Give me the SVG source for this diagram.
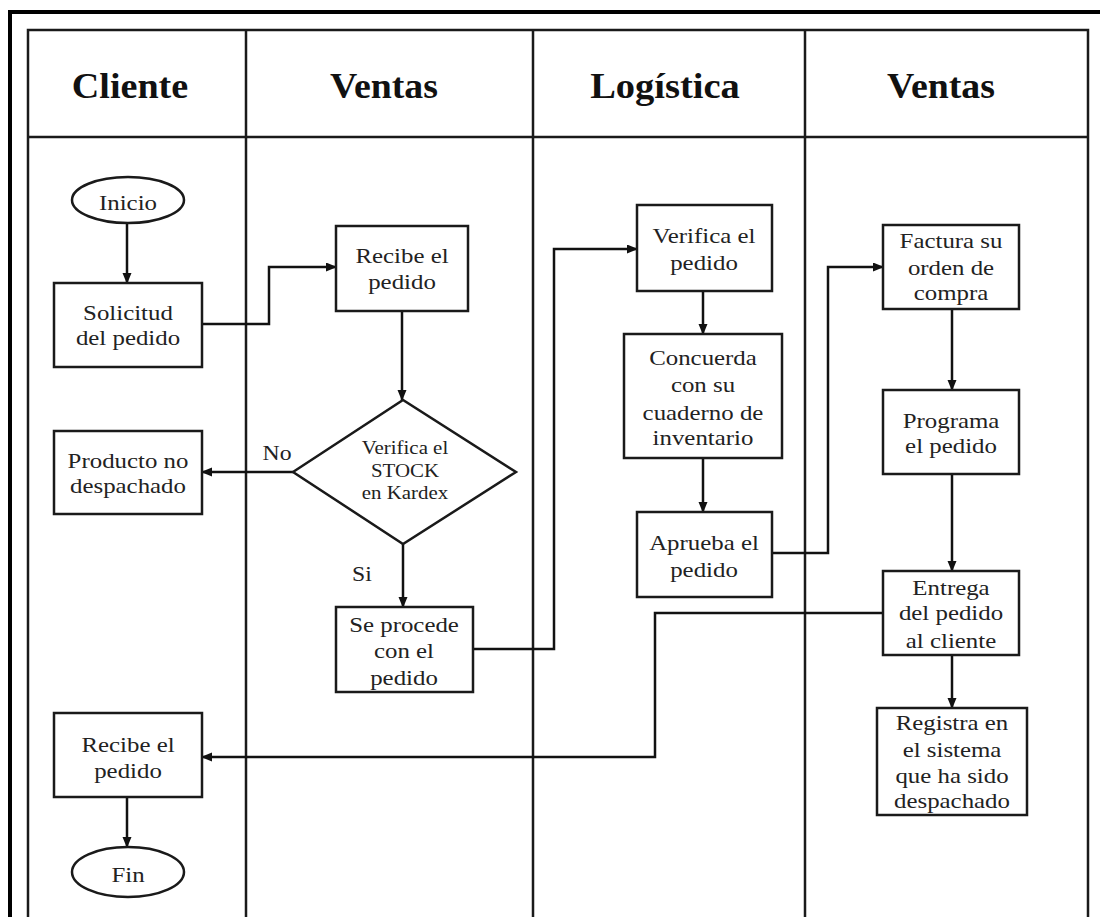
<svg xmlns="http://www.w3.org/2000/svg" width="1100" height="917" viewBox="0 0 1100 917">
  <style>
    .frame { fill: none; stroke: #000; stroke-width: 4; }
    .lane { fill: none; stroke: #1a1a1a; stroke-width: 2.5; }
    .box { fill: #fff; stroke: #1a1a1a; stroke-width: 2.5; }
    .wire { fill: none; stroke: #111; stroke-width: 2.5; }
    .hd { font-family: "Liberation Serif", "Times New Roman", serif; font-size: 35px; font-weight: bold; fill: #111; text-anchor: middle; }
    .t { font-family: "Liberation Serif", "Times New Roman", serif; font-size: 22px; fill: #222; text-anchor: middle; }
    .ts { font-family: "Liberation Serif", "Times New Roman", serif; font-size: 18.5px; fill: #222; text-anchor: middle; }
    .lbl { font-family: "Liberation Serif", "Times New Roman", serif; font-size: 21px; fill: #222; text-anchor: middle; }
  </style>
  <defs>
    <marker id="arrow" markerUnits="userSpaceOnUse" markerWidth="11" markerHeight="10" refX="10" refY="4.5" orient="auto">
      <path d="M0,0 L11,4.5 L0,9 z" fill="#111"/>
    </marker>
  </defs>

  <rect width="1100" height="917" fill="#fff"/>

  <!-- outer frame: top and left rules -->
  <g id="frame">
    <path class="frame" d="M10,917 V12 H1100"/>
  </g>

  <!-- swimlane grid -->
  <g id="lanes">
    <path class="lane" d="M28,917 V30 H1088 V917"/>
    <line class="lane" x1="28" y1="137" x2="1088" y2="137"/>
    <line class="lane" x1="246" y1="30" x2="246" y2="917"/>
    <line class="lane" x1="533" y1="30" x2="533" y2="917"/>
    <line class="lane" x1="805" y1="30" x2="805" y2="917"/>
    <text class="hd" transform="translate(130 0) scale(1.09 1)" x="0" y="98">Cliente</text>
    <text class="hd" transform="translate(384 0) scale(1.08 1)" x="0" y="98">Ventas</text>
    <text class="hd" transform="translate(665 0) scale(1.1 1)" x="0" y="98">Logística</text>
    <text class="hd" transform="translate(941 0) scale(1.08 1)" x="0" y="98">Ventas</text>
  </g>

  <!-- connectors -->
  <g id="connectors">
    <path class="wire" marker-end="url(#arrow)" d="M127,223 V283"/>
    <path class="wire" marker-end="url(#arrow)" d="M202,324 H269 V267 H336"/>
    <path class="wire" marker-end="url(#arrow)" d="M402,311 V400"/>
    <path class="wire" marker-end="url(#arrow)" d="M293,472 H202"/>
    <path class="wire" marker-end="url(#arrow)" d="M403,544 V607"/>
    <path class="wire" marker-end="url(#arrow)" d="M473,649 H554 V249 H637"/>
    <path class="wire" marker-end="url(#arrow)" d="M703,291 V334"/>
    <path class="wire" marker-end="url(#arrow)" d="M703,458 V512"/>
    <path class="wire" marker-end="url(#arrow)" d="M772,553 H828 V267 H883"/>
    <path class="wire" marker-end="url(#arrow)" d="M952,309 V390"/>
    <path class="wire" marker-end="url(#arrow)" d="M952,474 V571"/>
    <path class="wire" marker-end="url(#arrow)" d="M883,613 H655 V757 H202"/>
    <path class="wire" marker-end="url(#arrow)" d="M952,655 V708"/>
    <path class="wire" marker-end="url(#arrow)" d="M127,797 V847"/>
    <text class="lbl" transform="translate(277 0) scale(1.13 1)" x="0" y="460">No</text>
    <text class="lbl" transform="translate(362 0) scale(1.13 1)" x="0" y="581">Si</text>
  </g>

  <!-- nodes -->
  <g id="inicio">
    <ellipse class="box" cx="128" cy="200" rx="56" ry="23"/>
    <text class="t" transform="translate(128 0) scale(1.13 1)" x="0" y="210">Inicio</text>
  </g>

  <g id="solicitud">
    <rect class="box" x="54" y="283" width="148" height="84"/>
    <text class="t" transform="translate(128 0) scale(1.13 1)"><tspan x="0" y="320">Solicitud</tspan><tspan x="0" y="345">del pedido</tspan></text>
  </g>

  <g id="producto-no-despachado">
    <rect class="box" x="54" y="431" width="148" height="83"/>
    <text class="t" transform="translate(128 0) scale(1.13 1)"><tspan x="0" y="468">Producto no</tspan><tspan x="0" y="493">despachado</tspan></text>
  </g>

  <g id="recibe-cliente">
    <rect class="box" x="54" y="713" width="148" height="84"/>
    <text class="t" transform="translate(128 0) scale(1.13 1)"><tspan x="0" y="752">Recibe el</tspan><tspan x="0" y="778">pedido</tspan></text>
  </g>

  <g id="fin">
    <ellipse class="box" cx="128" cy="872" rx="56" ry="25"/>
    <text class="t" transform="translate(128 0) scale(1.13 1)" x="0" y="882">Fin</text>
  </g>

  <g id="recibe-ventas">
    <rect class="box" x="336" y="226" width="132" height="85"/>
    <text class="t" transform="translate(402 0) scale(1.13 1)"><tspan x="0" y="263">Recibe el</tspan><tspan x="0" y="289">pedido</tspan></text>
  </g>

  <g id="verifica-stock">
    <polygon class="box" points="293,472 403,400 516,472 403,544"/>
    <text class="ts" transform="translate(405 0) scale(1.13 1)"><tspan x="0" y="454">Verifica el</tspan><tspan x="0" y="477">STOCK</tspan><tspan x="0" y="499">en Kardex</tspan></text>
  </g>

  <g id="se-procede">
    <rect class="box" x="336" y="607" width="137" height="85"/>
    <text class="t" transform="translate(404 0) scale(1.13 1)"><tspan x="0" y="632">Se procede</tspan><tspan x="0" y="658">con el</tspan><tspan x="0" y="685">pedido</tspan></text>
  </g>

  <g id="verifica-pedido">
    <rect class="box" x="637" y="205" width="135" height="86"/>
    <text class="t" transform="translate(704 0) scale(1.13 1)"><tspan x="0" y="243">Verifica el</tspan><tspan x="0" y="270">pedido</tspan></text>
  </g>

  <g id="concuerda">
    <rect class="box" x="624" y="334" width="158" height="124"/>
    <text class="t" transform="translate(703 0) scale(1.13 1)"><tspan x="0" y="365">Concuerda</tspan><tspan x="0" y="392">con su</tspan><tspan x="0" y="420">cuaderno de</tspan><tspan x="0" y="445">inventario</tspan></text>
  </g>

  <g id="aprueba">
    <rect class="box" x="637" y="512" width="135" height="85"/>
    <text class="t" transform="translate(704 0) scale(1.13 1)"><tspan x="0" y="550">Aprueba el</tspan><tspan x="0" y="577">pedido</tspan></text>
  </g>

  <g id="factura">
    <rect class="box" x="883" y="225" width="136" height="84"/>
    <text class="t" transform="translate(951 0) scale(1.13 1)"><tspan x="0" y="248">Factura su</tspan><tspan x="0" y="275">orden de</tspan><tspan x="0" y="300">compra</tspan></text>
  </g>

  <g id="programa">
    <rect class="box" x="883" y="390" width="136" height="84"/>
    <text class="t" transform="translate(951 0) scale(1.13 1)"><tspan x="0" y="428">Programa</tspan><tspan x="0" y="453">el pedido</tspan></text>
  </g>

  <g id="entrega">
    <rect class="box" x="883" y="571" width="136" height="84"/>
    <text class="t" transform="translate(951 0) scale(1.13 1)"><tspan x="0" y="595">Entrega</tspan><tspan x="0" y="620">del pedido</tspan><tspan x="0" y="648">al cliente</tspan></text>
  </g>

  <g id="registra">
    <rect class="box" x="877" y="708" width="150" height="107"/>
    <text class="t" transform="translate(952 0) scale(1.13 1)"><tspan x="0" y="730">Registra en</tspan><tspan x="0" y="757">el sistema</tspan><tspan x="0" y="783">que ha sido</tspan><tspan x="0" y="808">despachado</tspan></text>
  </g>
</svg>
